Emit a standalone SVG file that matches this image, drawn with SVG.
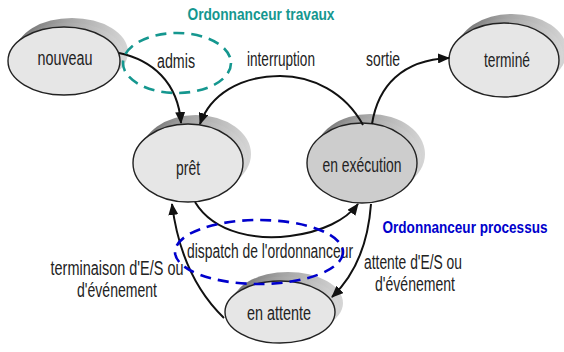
<svg xmlns="http://www.w3.org/2000/svg" width="564" height="352" viewBox="0 0 564 352">
<defs>
<linearGradient id="sh" x1="0" y1="0" x2="1" y2="0">
<stop offset="0" stop-color="#6e6e6e"/>
<stop offset="0.45" stop-color="#a4a4a4"/>
<stop offset="1" stop-color="#d6d6d6"/>
</linearGradient>
<marker id="ah" markerUnits="userSpaceOnUse" markerWidth="12" markerHeight="10" refX="11" refY="5" orient="auto">
<path d="M0,0 L12,5 L0,10 z" fill="#111"/>
</marker>
<style>
.sh{fill:url(#sh);stroke:none}
.nd{fill:#e6e6e6;stroke:#222;stroke-width:1.4}
.nd2{fill:#cdcdcd;stroke:#222;stroke-width:1.4}
.lbl{font-family:"Liberation Sans",Arial,sans-serif;font-size:14.5px;fill:#222;text-anchor:middle}
.ttl{font-family:"Liberation Sans",Arial,sans-serif;font-size:13.6px;font-weight:bold;text-anchor:middle}
.cn{fill:none;stroke:#111;stroke-width:2;marker-end:url(#ah)}
.grp{fill:none;stroke-width:2.6;stroke-dasharray:11 7}
</style>
</defs>
<rect width="564" height="352" fill="#fff"/>

<g id="nouveau">
<ellipse class="sh" cx="72" cy="52" rx="56" ry="34"/>
<ellipse class="sh" cx="68" cy="56.5" rx="56" ry="34"/>
<ellipse class="nd" cx="64" cy="61" rx="56" ry="34"/>
<text class="lbl" transform="translate(65,65) scale(1,1.35)" textLength="55" lengthAdjust="spacingAndGlyphs">nouveau</text>
</g>

<g id="termine">
<ellipse class="sh" cx="512" cy="51" rx="55" ry="37"/>
<ellipse class="sh" cx="508" cy="55.5" rx="55" ry="37"/>
<ellipse class="nd" cx="504" cy="60" rx="55" ry="37"/>
<text class="lbl" transform="translate(507,67) scale(1,1.35)" textLength="46" lengthAdjust="spacingAndGlyphs">terminé</text>
</g>

<g id="pret">
<ellipse class="sh" cx="196" cy="154" rx="55" ry="39"/>
<ellipse class="sh" cx="192" cy="158.5" rx="55" ry="39"/>
<ellipse class="nd" cx="188" cy="163" rx="55" ry="39"/>
<text class="lbl" transform="translate(188,175) scale(1,1.35)" textLength="24" lengthAdjust="spacingAndGlyphs">prêt</text>
</g>

<g id="execution">
<ellipse class="sh" cx="370" cy="154" rx="55" ry="40"/>
<ellipse class="sh" cx="366" cy="158.5" rx="55" ry="40"/>
<ellipse class="nd2" cx="362" cy="163" rx="55" ry="40"/>
<text class="lbl" transform="translate(362,172) scale(1,1.35)" textLength="79" lengthAdjust="spacingAndGlyphs">en exécution</text>
</g>

<g id="attente">
<ellipse class="sh" cx="288" cy="303" rx="55" ry="31"/>
<ellipse class="sh" cx="284" cy="307.5" rx="55" ry="31"/>
<ellipse class="nd" cx="280" cy="312" rx="55" ry="31"/>
<text class="lbl" transform="translate(279,320) scale(1,1.35)" textLength="64" lengthAdjust="spacingAndGlyphs">en attente</text>
</g>

<g id="connectors">
<path class="cn" d="M119,53 C152,60 178,82 181,123"/>
<path class="cn" d="M363,125 C345,92 312,76 280,76 C240,76 210,95 200,124"/>
<path class="cn" d="M372,124 C378,86 402,60 449,58"/>
<path class="cn" d="M195,202 C215,235 260,240 290,236 C322,232 346,220 358,204"/>
<path class="cn" d="M371,204 C368,245 355,275 332,297"/>
<path class="cn" d="M224,318 C195,290 178,252 172,204"/>
</g>

<g id="labels">
<text class="lbl" transform="translate(176,68) scale(1,1.35)" textLength="38" lengthAdjust="spacingAndGlyphs">admis</text>
<text class="lbl" transform="translate(281,66) scale(1,1.35)" textLength="68" lengthAdjust="spacingAndGlyphs">interruption</text>
<text class="lbl" transform="translate(383,66) scale(1,1.35)" textLength="34" lengthAdjust="spacingAndGlyphs">sortie</text>
<text class="lbl" transform="translate(270,258) scale(1,1.35)" textLength="166" lengthAdjust="spacingAndGlyphs">dispatch de l'ordonnanceur</text>
<text class="lbl" transform="translate(117,275) scale(1,1.35)" textLength="133" lengthAdjust="spacingAndGlyphs">terminaison d'E/S  ou</text>
<text class="lbl" transform="translate(117,297) scale(1,1.35)" textLength="80" lengthAdjust="spacingAndGlyphs">d'événement</text>
<text class="lbl" transform="translate(413,269) scale(1,1.35)" textLength="98" lengthAdjust="spacingAndGlyphs">attente d'E/S ou</text>
<text class="lbl" transform="translate(415,291) scale(1,1.35)" textLength="80" lengthAdjust="spacingAndGlyphs">d'événement</text>
</g>

<g id="ordonnanceur-travaux">
<ellipse class="grp" cx="177" cy="63" rx="54" ry="30" stroke="#15978f"/>
<text class="ttl" transform="translate(261,20) scale(1,1.15)" fill="#15978f" textLength="147" lengthAdjust="spacingAndGlyphs">Ordonnanceur travaux</text>
</g>

<g id="ordonnanceur-processus">
<ellipse class="grp" cx="259" cy="252" rx="84" ry="32" stroke="#0000cc"/>
<text class="ttl" transform="translate(465,233) scale(1,1.15)" fill="#0000cc" textLength="165" lengthAdjust="spacingAndGlyphs">Ordonnanceur processus</text>
</g>
</svg>
